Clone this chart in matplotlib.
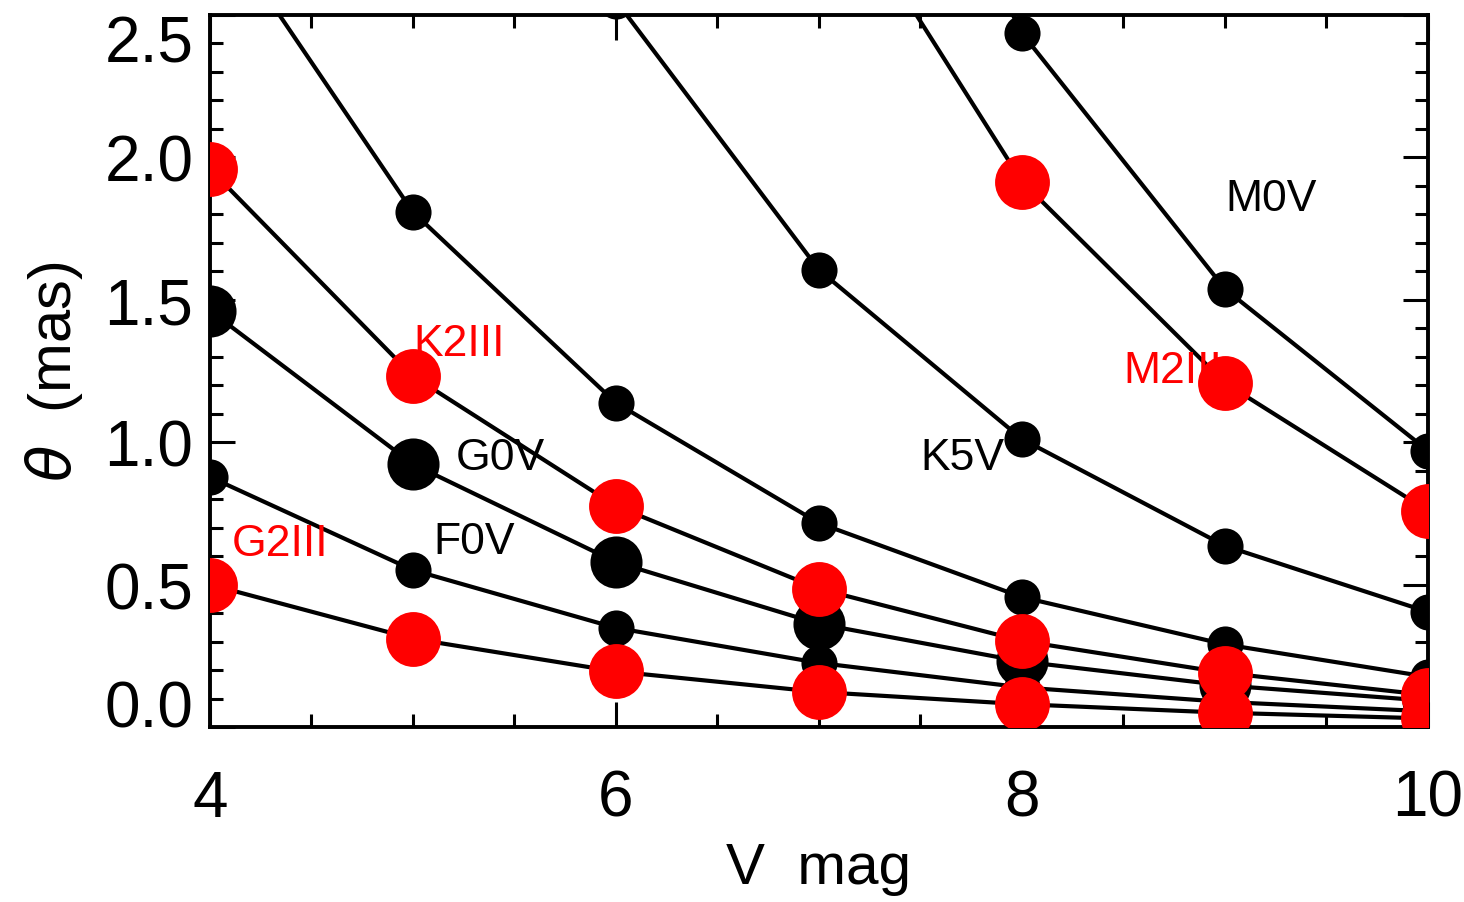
import numpy as np
import matplotlib.pyplot as plt
from matplotlib.ticker import MultipleLocator

plt.rcParams['font.family'] = ['Liberation Sans Narrow', 'Liberation Sans', 'DejaVu Sans']

# Magnitudes V
vmag = [4, 5, 6, 7, 8, 9, 10]

# Diametro angular (mas) para cada tipo espectral
g2iii = [0.50, 0.31, 0.195, 0.123, 0.080, 0.050, 0.030]
f0v   = [0.878, 0.551, 0.348, 0.225, 0.139, 0.088, 0.055]
g0v   = [1.462, 0.923, 0.579, 0.362, 0.230, 0.146, 0.092]
k2iii = [1.959, 1.232, 0.776, 0.485, 0.302, 0.190, 0.112]
k0v   = [2.86, 1.808, 1.138, 0.716, 0.456, 0.290, 0.176]
k5v   = [None, None, 2.55, 1.605, 1.011, 0.636, 0.404]
m2iii = [None, None, None, 3.04, 1.915, 1.208, 0.759]
m0v   = [None, None, None, 3.86, 2.436, 1.538, 0.970]

# (datos, color, tamaño marcador)
curvas = [
    (g2iii, 'red', 'grande'),
    (f0v, 'black', 'chico'),
    (g0v, 'black', 'medio'),
    (k2iii, 'red', 'grande'),
    (k0v, 'black', 'chico'),
    (k5v, 'black', 'chico'),
    (m2iii, 'red', 'grande'),
    (m0v, 'black', 'chico'),
]
tamanos = {'grande': 39.5, 'medio': 37.5, 'chico': 26}

etiquetas = ['G2III', 'F0V', 'G0V', 'K2III', 'K5V', 'M2III', 'M0V']
etiq_x = [4.105, 5.10, 5.21, 5.0, 7.50, 8.50, 9.0]
etiq_y = [0.643, 0.65, 0.945, 1.345, 0.948, 1.25, 1.854]
etiq_color = ['red', 'black', 'black', 'red', 'black', 'red', 'black']

fig = plt.figure(figsize=(14.64, 9.03), dpi=100)
ax = fig.add_axes([0.1434, 0.1938, 0.9754 - 0.1434, 0.9823 - 0.1938])

for datos, color, tam in curvas:
    x = [v for v, d in zip(vmag, datos) if d is not None]
    y = [d for d in datos if d is not None]
    ax.plot(x, y, color='black', lw=3, zorder=2)
    z = 4 if color == 'red' else 3
    ax.plot(x, y, 'o', color=color, ms=tamanos[tam], mec='none', zorder=z)

for t, xx, yy, c in zip(etiquetas, etiq_x, etiq_y, etiq_color):
    ax.text(xx, yy, t, color=c, fontsize=32, va='center', ha='left', zorder=3)

ax.xaxis.set_major_locator(MultipleLocator(2))
ax.xaxis.set_minor_locator(MultipleLocator(0.5))
ax.set_yticks([0.0, 0.5, 1.0, 1.5, 2.0, 2.5])
ax.set_yticklabels(['0.0', '0.5', '1.0', '1.5', '2.0', '2.5'])
ax.yaxis.set_minor_locator(MultipleLocator(0.1))
ax.set_xlim(4, 10)
ax.set_ylim(0, 2.5)

ax.tick_params(which='both', direction='in', top=True, right=True, width=2.2)
ax.tick_params(which='major', length=18)
ax.tick_params(which='minor', length=9.5)
ax.tick_params(axis='x', labelsize=46, pad=30)
ax.tick_params(axis='y', labelsize=46, pad=12)
for s in ax.spines.values():
    s.set_linewidth(2.8)

# etiquetas extremas como en IDL
ylabs = ax.get_yticklabels()
ylabs[0].set_va('baseline')
ylabs[-1].set_va('top')

ax.set_xlabel('V  mag', fontsize=42, labelpad=9)
ax.set_ylabel(r'$\theta$  (mas)', fontsize=43, labelpad=14)

fig.savefig('out.png', dpi=100)
